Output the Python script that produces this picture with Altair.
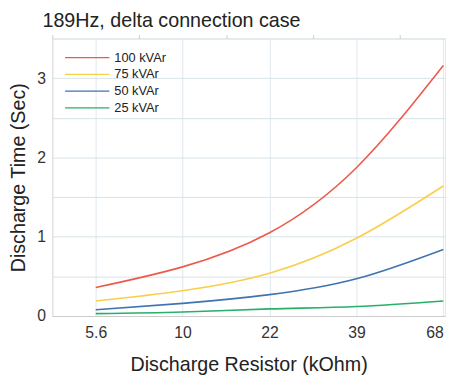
import altair as alt
import pandas as pd

resistors = ["5.6", "10", "22", "39", "68"]
series = ["100 kVAr", "75 kVAr", "50 kVAr", "25 kVAr"]
t100 = [0.36, 0.62, 1.05, 1.87, 3.16]
t75 = [0.19, 0.32, 0.54, 0.98, 1.64]
t50 = [0.08, 0.16, 0.27, 0.47, 0.84]
t25 = [0.03, 0.05, 0.09, 0.12, 0.19]
colors = ["#ec5a4c", "#f9cf4a", "#3f74b0", "#27b06a"]

rows = []
for name, vals in zip(series, [t100, t75, t50, t25]):
    for i, (r, v) in enumerate(zip(resistors, vals)):
        rows.append({"idx": i, "res": r, "time": v, "series": name})
df = pd.DataFrame(rows)

xscale = alt.Scale(domain=[-0.5, 4.02], nice=False, zero=False)
yscale = alt.Scale(domain=[0, 3.5], nice=False)

label_expr = "datum.value == 0 ? '5.6' : datum.value == 1 ? '10' : datum.value == 2 ? '22' : datum.value == 3 ? '39' : datum.value == 4 ? '68' : ''"
FONT = "Liberation Sans"

lines = alt.Chart(df).mark_line(interpolate="natural", strokeWidth=1.6).encode(
    x=alt.X("idx:Q", scale=xscale,
            axis=alt.Axis(values=[0, 1, 2, 3, 4], labelExpr=label_expr, ticks=False,
                          labelAlign={"condition": {"test": "datum.value == 4", "value": "right"},
                                      "value": "center"},
                          grid=True, gridColor="#dde8ee", domainColor="#cccccc",
                          title="Discharge Resistor (kOhm)", labelFontSize=16,
                          labelColor="#333333", titleFontSize=20, titleFontWeight="normal",
                          titleColor="#222222", labelPadding=9, titlePadding=14,
                          labelFont=FONT, titleFont=FONT)),
    y=alt.Y("time:Q", scale=yscale,
            axis=alt.Axis(values=[0, 0.5, 1, 1.5, 2, 2.5, 3, 3.5],
                          labelExpr="datum.value % 1 == 0 ? datum.value : ''",
                          ticks=False, grid=True, gridColor="#d6e2e8",
                          domainColor="#dddddd", title="Discharge Time (Sec)",
                          labelFontSize=16, labelColor="#333333", titleFontSize=20,
                          titleFontWeight="normal", titleColor="#222222",
                          labelPadding=7, titlePadding=8,
                          labelFont=FONT, titleFont=FONT)),
    color=alt.Color("series:N", sort=series,
                    scale=alt.Scale(domain=series, range=colors),
                    legend=alt.Legend(orient="none", legendX=27, legendY=11, title=None,
                                      symbolType="M-3,0H3", symbolSize=225,
                                      symbolStrokeWidth=1.3, symbolFillColor="transparent",
                                      labelFontSize=13,
                                      labelColor="#222222", rowPadding=1,
                                      labelFont=FONT, labelOffset=19)),
)

minor = pd.DataFrame({"idx": [0.5, 1.5, 2.5, 3.5], "time": [0, 0, 0, 0]})
ticks = alt.Chart(minor).mark_point(opacity=0).encode(
    x=alt.X("idx:Q", scale=xscale,
            axis=alt.Axis(values=[-0.5, 0.5, 1.5, 2.5, 3.5], labels=False, ticks=True,
                          tickSize=4, tickColor="#cccccc", grid=False, domain=False,
                          title=None)),
    y=alt.Y("time:Q", scale=yscale),
)

chart = alt.layer(lines, ticks).resolve_axis(x="independent").properties(
    width=399, height=282,
    autosize=alt.AutoSizeParams(type="none"),
    padding={"left": 45, "top": 28, "right": 2, "bottom": 60},
    title=alt.Title("189Hz, delta connection case", fontSize=20, fontWeight="normal",
                    color="#222222", anchor="start", frame="group", offset=3, dx=-10,
                    font=FONT),
).configure_view(stroke="#e4e9ec")

chart.save("out.html", embed_options={"renderer": "svg", "actions": False})
